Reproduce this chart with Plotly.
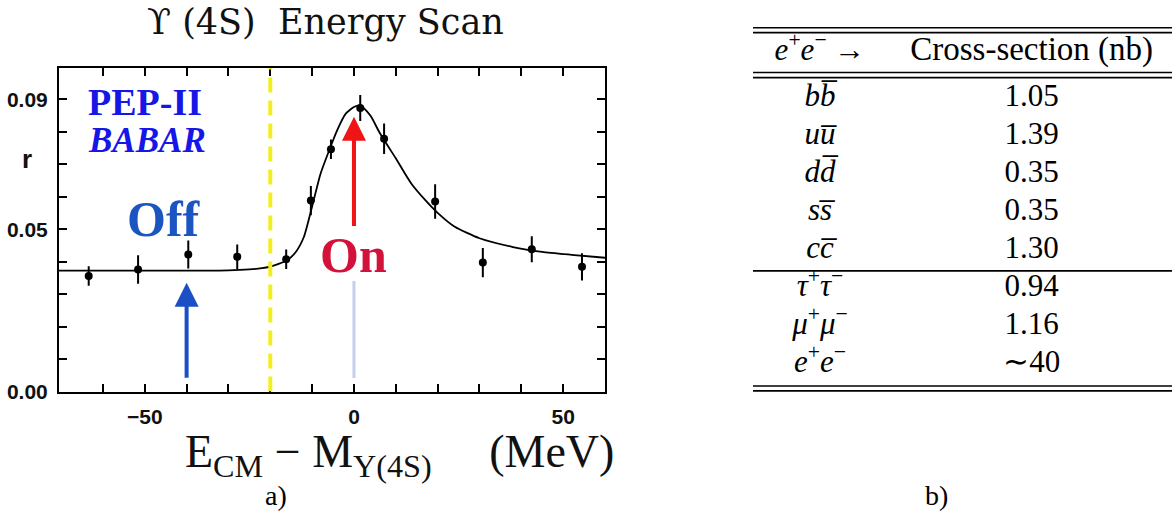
import plotly.graph_objects as go

W, H = 1172, 521

# ---------------- data: Upsilon(4S) energy scan ----------------
scan_x = [-63.4, -51.6, -39.6, -27.9, -16.2, -10.3, -5.5, 1.5, 7.2, 19.4, 30.8, 42.5, 54.5]
scan_r = [0.0356, 0.0376, 0.0422, 0.0415, 0.0407, 0.0588, 0.0746, 0.0873, 0.0778,
          0.0585, 0.0397, 0.0438, 0.0384]
scan_err = [0.0030, 0.0044, 0.0043, 0.0038, 0.0030, 0.0045, 0.0030, 0.0040, 0.0047,
            0.0053, 0.0045, 0.0040, 0.0042]

fit_x = [-70.5, -40, -30, -25, -22, -20, -18, -16, -14, -12, -10, -8, -6, -4, -2, 0, 1, 2,
         4, 6, 8, 10, 12, 14, 17, 20, 24, 30, 38, 45, 52, 60]
fit_r = [0.0372, 0.0372, 0.0373, 0.0376, 0.0380, 0.0385, 0.0393, 0.0404, 0.0428, 0.0475,
         0.0570, 0.0670, 0.0740, 0.0805, 0.0855, 0.0876, 0.0880, 0.0877, 0.0848, 0.0800,
         0.0758, 0.0718, 0.0675, 0.0635, 0.0590, 0.0550, 0.0508, 0.0472, 0.0445, 0.0430,
         0.0421, 0.0412]

x_tickvals = [-60, -50, -40, -30, -20, -10, 0, 10, 20, 30, 40, 50]
x_ticktext = ["", "\u221250", "", "", "", "", "0", "", "", "", "", "50"]
y_tickvals = [0.00, 0.01, 0.02, 0.03, 0.04, 0.05, 0.06, 0.07, 0.08, 0.09]
y_ticktext = ["0.00", "", "", "", "", "0.05", "", "", "", "0.09"]

off_energy = -40      # off-resonance running point
on_energy = 0         # on-resonance running point
cut_energy = -20      # dashed yellow line

# ---------------- data: cross-section table ----------------
table_header = ["<i>e</i><sup>+</sup><i>e</i><sup>\u2212</sup> \u2192", "Cross-section (nb)"]
channels = ["<i>b</i><i>b\u0305</i>", "<i>u</i><i>u\u0305</i>", "<i>d</i><i>d\u0305</i>",
            "<i>s</i><i>s\u0305</i>", "<i>c</i><i>c\u0305</i>",
            "<i>\u03c4</i><sup>+</sup><i>\u03c4</i><sup>\u2212</sup>",
            "<i>\u03bc</i><sup>+</sup><i>\u03bc</i><sup>\u2212</sup>",
            "<i>e</i><sup>+</sup><i>e</i><sup>\u2212</sup>"]
cross_sections = ["1.05", "1.39", "0.35", "0.35", "1.30", "0.94", "1.16", "\u223c40"]

# ---------------- layout constants ----------------
SERIF = "Liberation Serif"
SANS = "Liberation Sans"
row_idx = list(range(len(channels)))
header_pos = -1.21
rules_double = [(-1.845, -1.716), (-0.669, -0.533), (7.573, 7.702)]
rules_single = [4.547]

fig = go.Figure()

# fit curve
fig.add_trace(go.Scatter(x=fit_x, y=fit_r, mode="lines",
                         line=dict(color="black", width=1.8, shape="spline", smoothing=0.6),
                         hoverinfo="skip", xaxis="x", yaxis="y"))
# data points
fig.add_trace(go.Scatter(x=scan_x, y=scan_r, mode="markers",
                         marker=dict(color="black", size=8),
                         error_y=dict(type="data", array=scan_err, thickness=2, width=0,
                                      color="black"),
                         xaxis="x", yaxis="y"))

# table text
fig.add_trace(go.Scatter(x=[0], y=[header_pos], mode="text",
                         text=[table_header[0]], textposition="middle center",
                         textfont=dict(family=SERIF, size=31, color="black"),
                         xaxis="x2", yaxis="y2", hoverinfo="skip"))
fig.add_trace(go.Scatter(x=[1], y=[header_pos], mode="text",
                         text=[table_header[1]], textposition="middle center",
                         textfont=dict(family=SERIF, size=33, color="black"),
                         xaxis="x2", yaxis="y2", hoverinfo="skip"))
fig.add_trace(go.Scatter(x=[0] * len(channels), y=row_idx, mode="text",
                         text=channels, textposition="middle center",
                         textfont=dict(family=SERIF, size=31, color="black"),
                         xaxis="x2", yaxis="y2", hoverinfo="skip"))
fig.add_trace(go.Scatter(x=[1] * len(cross_sections), y=row_idx, mode="text",
                         text=cross_sections, textposition="middle center",
                         textfont=dict(family=SERIF, size=31, color="black"),
                         xaxis="x2", yaxis="y2", hoverinfo="skip"))

shapes = []
# yellow dashed line
shapes.append(dict(type="line", xref="x", yref="y", x0=cut_energy, x1=cut_energy,
                   y0=0, y1=0.0996, line=dict(color="#f3ef1e", width=4, dash="15px,8px")))
# faint lavender line under "On"
shapes.append(dict(type="line", xref="x", yref="y", x0=on_energy, x1=on_energy,
                   y0=0.0042, y1=0.034, line=dict(color="#c6cef0", width=3)))
# table rules
tx0 = 753 / W
for a, b in rules_double:
    for yy in (a, b):
        shapes.append(dict(type="line", xref="paper", yref="y2", x0=tx0, x1=1.0,
                           y0=yy, y1=yy, line=dict(color="black", width=1.6)))
for yy in rules_single:
    shapes.append(dict(type="line", xref="paper", yref="y2", x0=tx0, x1=1.0,
                       y0=yy, y1=yy, line=dict(color="black", width=1.6)))


def paper_text(x, y, text, font, xanchor="center"):
    return dict(x=x / W, y=1 - y / H, xref="paper", yref="paper", text=text,
                showarrow=False, xanchor=xanchor, yanchor="middle", font=font)


annotations = [
    # arrows
    dict(x=off_energy, y=0.0335, ax=off_energy, ay=0.0038, xref="x", yref="y",
         axref="x", ayref="y", text="", showarrow=True, arrowhead=2, arrowsize=1.2,
         arrowwidth=4, arrowcolor="#1a4fc6"),
    dict(x=on_energy, y=0.0846, ax=on_energy, ay=0.0505, xref="x", yref="y",
         axref="x", ayref="y", text="", showarrow=True, arrowhead=2, arrowsize=1.2,
         arrowwidth=4, arrowcolor="#f01414"),
    # in-plot labels
    dict(x=-45.5, y=0.053, xref="x", yref="y", text="<b>Off</b>", showarrow=False,
         xanchor="center", yanchor="middle",
         font=dict(family=SERIF, size=50, color="#1a55c2")),
    dict(x=on_energy, y=0.042, xref="x", yref="y", text="<b>On</b>", showarrow=False,
         xanchor="center", yanchor="middle",
         font=dict(family=SERIF, size=50, color="#d3123c")),
    paper_text(86, 104, "<b>PEP-II</b>",
               dict(family=SERIF, size=38, color="#1616e6"), xanchor="left"),
    paper_text(86, 144, "<b><i>BABAR</i></b>",
               dict(family=SERIF, size=35, color="#1616e6"), xanchor="left"),
    # y-axis title
    paper_text(27, 162, "<b>r</b>", dict(family=SANS, size=26, color="#111111")),
    # chart title
    paper_text(325, 22, "\u03d2 (4S)  Energy Scan",
               dict(family="DejaVu Serif", size=35, color="#111111")),
    # x-axis title
    paper_text(183, 465, "E<sub>CM</sub> \u2212 M<sub>\u03a5(4S)</sub>     (MeV)",
               dict(family=SERIF, size=46, color="#111111"), xanchor="left"),
    # panel labels
    paper_text(276, 506, "a)", dict(family=SERIF, size=28, color="black")),
    paper_text(936, 506, "b)", dict(family=SERIF, size=28, color="black")),
]

axis_common = dict(showgrid=False, zeroline=False, showline=True, linecolor="black",
                   linewidth=2, mirror="allticks", ticks="inside", ticklen=8,
                   tickwidth=2, tickcolor="black",
                   tickfont=dict(family=SANS, size=21, color="#111111", weight="bold"),
                   ticklabelstandoff=5)

fig.update_layout(
    width=W, height=H,
    margin=dict(l=0, r=0, t=0, b=0),
    paper_bgcolor="white", plot_bgcolor="white",
    showlegend=False,
    xaxis=dict(domain=[59 / W, 605 / W], range=[-70.5, 60], tickmode="array",
               tickvals=x_tickvals, ticktext=x_ticktext, anchor="y", **axis_common),
    yaxis=dict(domain=[(H - 400) / H, (H - 69.5) / H], range=[0, 0.0996],
               tickmode="array", tickvals=y_tickvals, ticktext=y_ticktext, anchor="x",
               **axis_common),
    xaxis2=dict(domain=[753 / W, 1.0], range=[-0.3165, 1.663], visible=False,
                anchor="y2"),
    yaxis2=dict(domain=[0, 1], range=[10.834, -2.573], visible=False, anchor="x2"),
    shapes=shapes,
    annotations=annotations,
)

fig.write_html("out.html")
